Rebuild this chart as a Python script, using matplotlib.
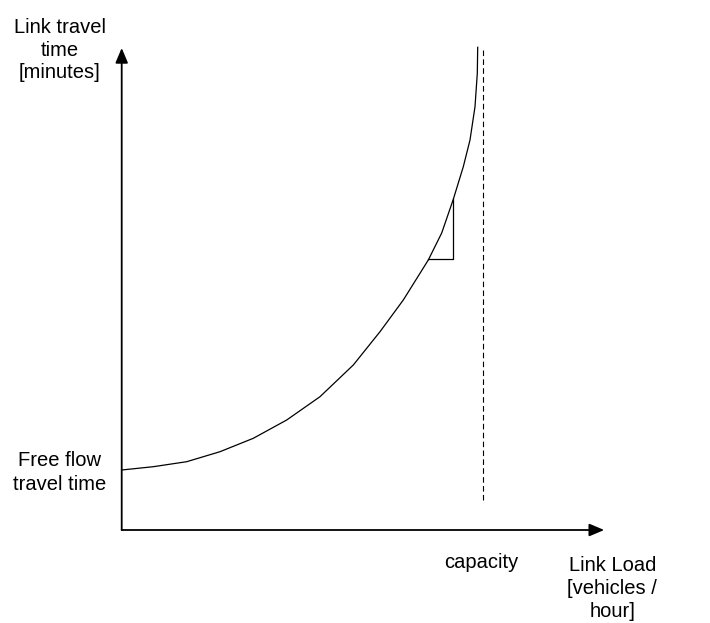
import matplotlib
matplotlib.use("Agg")
import matplotlib.pyplot as plt

plt.rcParams['font.family'] = ['Liberation Sans', 'DejaVu Sans']

# curve points, measured from the axis corner (x to the right, y upward)
load = [0, 31.6, 65, 98.3, 131.6, 165, 198.3, 231.6, 258.3, 281.6, 306.6,
        320, 331.6, 341.6, 348.3, 353.3, 355.6, 356]
travel_time = [60, 63.3, 68.3, 78.3, 91.7, 110, 133.3, 165, 198.3, 230, 270,
               297, 330.7, 363.3, 390, 423.3, 456.7, 482.7]

# slope triangle
tri_x = [331.6, 331.6, 306.6]
tri_y = [330.7, 271, 271]

capacity_x = 361.6
capacity_top = 483
capacity_bottom = 30

x_axis_end = 482.5
y_axis_end = 482

fig = plt.figure(figsize=(7.10, 6.23), dpi=100)
ax = fig.add_axes([0, 0, 1, 1])
ax.set_xlim(-121.7, 710 - 121.7)
ax.set_ylim(-(623 - 530), 530)
ax.axis('off')

# axes with arrows
arrow = dict(arrowstyle='-|>,head_length=9,head_width=3.8', mutation_scale=1,
             color='black', lw=1.3, shrinkA=0, shrinkB=0)
ax.annotate('', xy=(x_axis_end, 0), xytext=(0, 0), arrowprops=arrow)
ax.annotate('', xy=(0, y_axis_end), xytext=(0, 0), arrowprops=arrow)

ax.plot(load, travel_time, color='black', lw=0.9, solid_joinstyle='round')
ax.plot(tri_x, tri_y, color='black', lw=0.9)
ax.plot([capacity_x, capacity_x], [capacity_bottom, capacity_top], color='black',
        lw=0.8, linestyle=(0, (5, 3)))

# last-line baselines
ax.text(-61.7, 530 - 78, 'Link travel\ntime\n[minutes]', ha='center', va='baseline',
        fontsize=14.5, linespacing=1.22)
ax.text(-61.7, 530 - 490, 'Free flow\ntravel time', ha='center', va='baseline',
        fontsize=14.5, linespacing=1.3)
ax.text(359.5, 530 - 568, 'capacity', ha='center', va='baseline', fontsize=14.5)
ax.text(490.5, 530 - 617, 'Link Load\n[vehicles /\nhour]', ha='center', va='baseline',
        fontsize=14.5, linespacing=1.27)

fig.savefig('out.png', dpi=100)
